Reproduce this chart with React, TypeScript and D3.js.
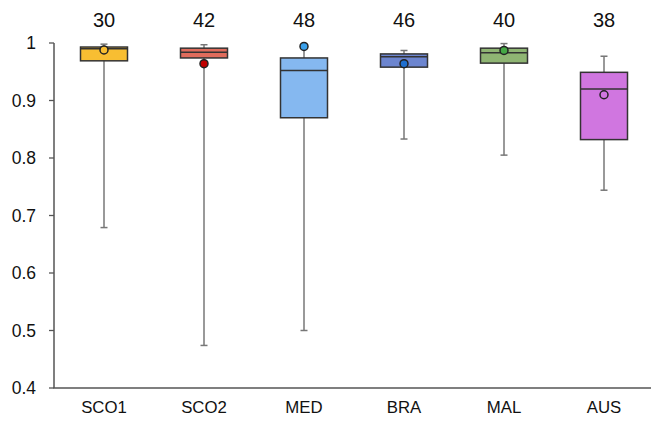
import React from "react";
import * as d3 from "d3";

const categories = ["SCO1", "SCO2", "MED", "BRA", "MAL", "AUS"];
const counts = [30, 42, 48, 46, 40, 38];
const whiskerLow = [0.679, 0.474, 0.5, 0.833, 0.805, 0.744];
const q1 = [0.969, 0.974, 0.87, 0.958, 0.965, 0.832];
const median = [0.99, 0.984, 0.952, 0.976, 0.983, 0.92];
const q3 = [0.993, 0.991, 0.974, 0.981, 0.991, 0.949];
const whiskerHigh = [0.998, 0.997, 0.992, 0.987, 0.999, 0.977];
const means = [0.988, 0.964, 0.994, 0.964, 0.987, 0.91];
const yTicks = [0.4, 0.5, 0.6, 0.7, 0.8, 0.9, 1];
const boxColors = ["#F8BE32", "#E06C5C", "#85B8F0", "#6C85CF", "#8FB573", "#D076E0"];
const dotColors = ["#F8BE32", "#C00000", "#3AA0EA", "#1F6FCF", "#45A845", "#D076E0"];

export default function App() {
  const W = 651, H = 422;
  const x = d3.scaleBand<string>().domain(categories).range([54, 654]).padding(0);
  const y = d3.scaleLinear().domain([0.4, 1]).range([388, 43]);
  const bw = x.bandwidth() * 0.47;
  const font = "'Liberation Sans', Arial, sans-serif";
  return (
    <svg width={W} height={H} style={{ position: "absolute", left: 0, top: 0 }} fontFamily={font}>
      <rect width={W} height={H} fill="#fff" />
      <line x1={54} x2={54} y1={y(1)} y2={y(0.4)} stroke="#555" strokeWidth={1.5} />
      <line x1={53.25} x2={654} y1={y(0.4)} y2={y(0.4)} stroke="#555" strokeWidth={1.5} />
      {yTicks.map((t) => (
        <g key={t}>
          <line x1={49} x2={54} y1={y(t)} y2={y(t)} stroke="#555" strokeWidth={1.3} />
          <text x={36} y={y(t)} dy="0.36em" textAnchor="end" fontSize={17.5} fill="#111">
            {d3.format("~g")(t)}
          </text>
        </g>
      ))}
      {categories.map((c, i) => {
        const cx = (x(c) as number) + x.bandwidth() / 2;
        return (
          <g key={c}>
            <text x={cx} y={413} textAnchor="middle" fontSize={16.8} fill="#111">{c}</text>
            <text x={cx} y={27} textAnchor="middle" fontSize={20} fill="#111">{counts[i]}</text>
            <line x1={cx} x2={cx} y1={y(whiskerLow[i])} y2={y(whiskerHigh[i])} stroke="#777" strokeWidth={1.5} />
            <line x1={cx - 3.5} x2={cx + 3.5} y1={y(whiskerLow[i])} y2={y(whiskerLow[i])} stroke="#777" strokeWidth={1.5} />
            <line x1={cx - 3.5} x2={cx + 3.5} y1={y(whiskerHigh[i])} y2={y(whiskerHigh[i])} stroke="#777" strokeWidth={1.5} />
            <rect x={cx - bw / 2} y={y(q3[i])} width={bw} height={y(q1[i]) - y(q3[i])}
              fill={boxColors[i]} stroke="#333" strokeWidth={1.5} />
            <line x1={cx - bw / 2} x2={cx + bw / 2} y1={y(median[i])} y2={y(median[i])} stroke="#333" strokeWidth={1.5} />
            <circle cx={cx} cy={y(means[i])} r={4} fill={dotColors[i]} stroke="#222" strokeWidth={1.5} />
          </g>
        );
      })}
    </svg>
  );
}
